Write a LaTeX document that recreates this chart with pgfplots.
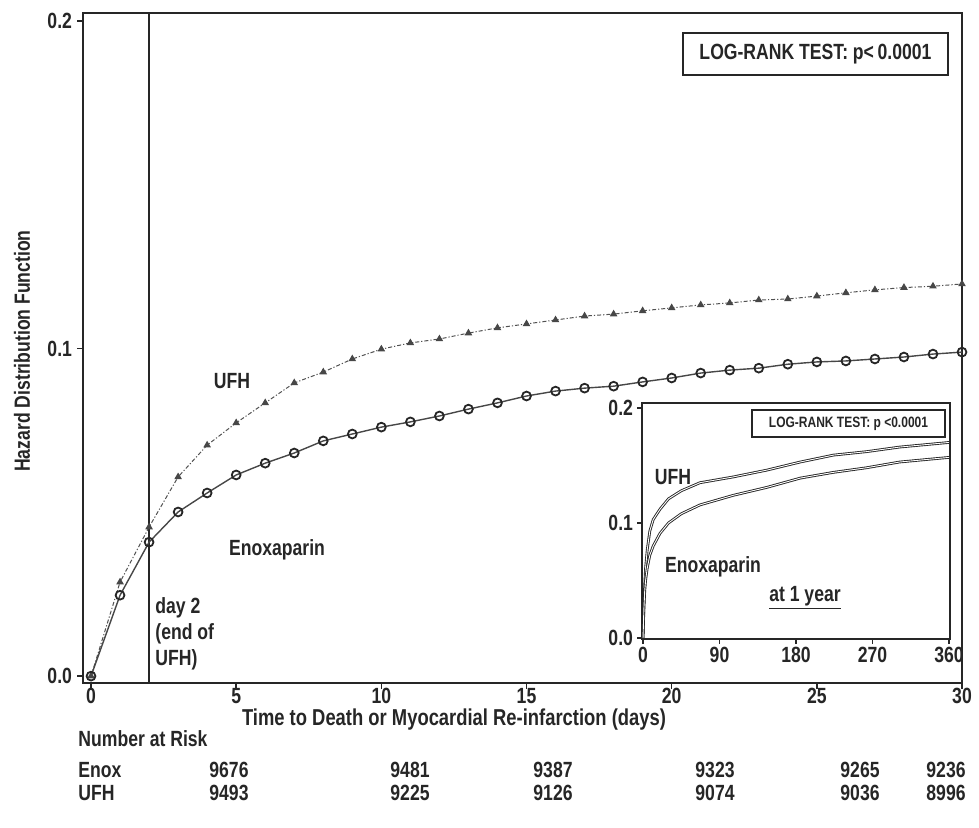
\documentclass[border=0pt]{standalone}
\usepackage{fontspec}
\setmainfont{Liberation Sans}[FakeStretch=0.8]
\usepackage{pgfplots}
\pgfplotsset{compat=1.18}
\pgfplotstableread{
day val
0 0
1 0.0247
2 0.0409
3 0.0501
4 0.0559
5 0.0614
6 0.0650
7 0.0681
8 0.0718
9 0.0739
10 0.0760
11 0.0776
12 0.0794
13 0.0815
14 0.0834
15 0.0855
16 0.0870
17 0.0879
18 0.0885
19 0.0898
20 0.0910
21 0.0925
22 0.0934
23 0.0940
24 0.0952
25 0.0959
26 0.0962
27 0.0968
28 0.0974
29 0.0983
30 0.0989
}\enox
\pgfplotstableread{
day val
0 0
1 0.0287
2 0.0455
3 0.0608
4 0.0705
5 0.0773
6 0.0834
7 0.0895
8 0.0928
9 0.0968
10 0.0998
11 0.1017
12 0.1029
13 0.1047
14 0.1063
15 0.1075
16 0.1087
17 0.1099
18 0.1105
19 0.1115
20 0.1124
21 0.1133
22 0.1139
23 0.1148
24 0.1151
25 0.1160
26 0.1170
27 0.1179
28 0.1186
29 0.1190
30 0.1197
}\ufh
\pgfplotstableread{
day val
0 0
1 0.029
2 0.046
3 0.061
5 0.077
8 0.093
12 0.103
20 0.112
30 0.121
45 0.128
67 0.135
106 0.140
146 0.146
185 0.153
224 0.159
263 0.162
302 0.166
360 0.170
}\ufhyear
\pgfplotstableread{
day val
0 0
1 0.025
2 0.041
3 0.050
5 0.061
8 0.072
12 0.080
20 0.091
30 0.100
45 0.108
67 0.1157
106 0.124
146 0.131
185 0.139
224 0.144
263 0.148
302 0.153
360 0.157
}\enoxyear
\definecolor{ink}{HTML}{262626}
\begin{document}
\begin{tikzpicture}[x=0.5pt,y=0.5pt,font=\fontsize{11}{13}\selectfont\bfseries,text=ink]
\useasboundingbox (0,0) rectangle (979,827);
\begin{axis}[
  at={(41.5pt,72pt)}, anchor=south west, scale only axis,
  width=439.5pt, height=335pt,
  xmin=-0.276, xmax=30, ymin=-0.0021, ymax=0.2024,
  xtick={0,5,10,15,20,25,30}, xticklabels={0,5,10,15,20,25,30},
  ytick={0,0.1,0.2}, yticklabels={0.0,0.1,0.2},
  tick align=outside, tick pos=left, major tick length=3pt,
  axis line style={line width=0.9pt,ink}, every tick/.style={line width=0.8pt,ink},
  ticklabel style={font=\fontsize{11}{13}\selectfont\bfseries,text=ink},
  xticklabel style={yshift=1.5pt, inner sep=1pt}, yticklabel style={xshift=1pt},
  clip=false,
]
\draw[line width=0.9pt,ink] (axis cs:2,-0.0021) -- (axis cs:2,0.2024);
\addplot[ink!80, line width=0.5pt, dash pattern=on 2pt off 1pt on 0.6pt off 1pt,
  mark=triangle*, mark size=1.7pt, mark options={solid,fill=ink!85,draw=ink!85}] table[x=day,y=val]{\ufh};
\addplot[ink!85, line width=0.7pt, mark=o, mark size=2.2pt,
  mark options={solid,line width=0.9pt,draw=ink}] table[x=day,y=val]{\enox};
\end{axis}
% inset
\begin{axis}[
  at={(321pt,94pt)}, anchor=south west, scale only axis,
  width=154pt, height=118pt,
  xmin=-1.2, xmax=361.2, ymin=-0.0009, ymax=0.2043,
  xtick={0,90,180,270,360}, xticklabels={0,90,180,270,360},
  ytick={0,0.1,0.2}, yticklabels={0.0,0.1,0.2},
  tick align=outside, tick pos=left, major tick length=2.5pt,
  axis line style={line width=0.9pt,ink}, every tick/.style={line width=0.8pt,ink},
  ticklabel style={font=\fontsize{11}{13}\selectfont\bfseries,text=ink},
  xticklabel style={yshift=2pt}, yticklabel style={xshift=1.5pt},
  axis background/.style={fill=white},
]
\addplot[ink, line width=0.45pt, double=white, double distance=0.45pt] table[x=day,y=val]{\ufhyear};
\addplot[ink, line width=0.45pt, double=white, double distance=0.45pt] table[x=day,y=val]{\enoxyear};
\end{axis}
% texts
\node[draw=ink, line width=0.8pt, minimum width=132.5pt, minimum height=21pt, inner sep=0pt] at (815.5,773) {LOG-RANK TEST: p{<}\,0.0001};
\node[draw=ink, line width=0.7pt, minimum width=96.5pt, minimum height=13.5pt, inner sep=0pt, font=\fontsize{7.5}{9}\selectfont\bfseries] at (848.5,403.5) {LOG-RANK TEST: p <0.0001};
\node at (232,446) {UFH};
\node at (277,277) {Enoxaparin};
\node[anchor=north west, align=left, inner sep=0pt, font=\fontsize{11}{13}\selectfont\bfseries] at (155,230) {day 2\\(end of\\UFH)};
\node at (673,350) {UFH};
\node at (713,260) {Enoxaparin};
\node at (805,229) {\underline{at 1 year}};
\node[rotate=90] at (22,476) {Hazard Distribution Function};
\node[inner sep=0pt, font=\fontsize{11.5}{13}\selectfont\bfseries] at (454,107) {Time to Death or Myocardial Re-infarction (days)};
\node[anchor=west, inner sep=0pt] at (78,88) {Number at Risk};
\node[anchor=west, inner sep=0pt] at (78,57) {Enox};
\node[anchor=west, inner sep=0pt] at (78,34) {UFH};
\foreach \x/\a/\b in {229/9676/9493, 410/9481/9225, 553/9387/9126, 715/9323/9074, 860/9265/9036, 946/9236/8996}{
  \node at (\x,57) {\a};
  \node at (\x,34) {\b};
}
\end{tikzpicture}
\end{document}
